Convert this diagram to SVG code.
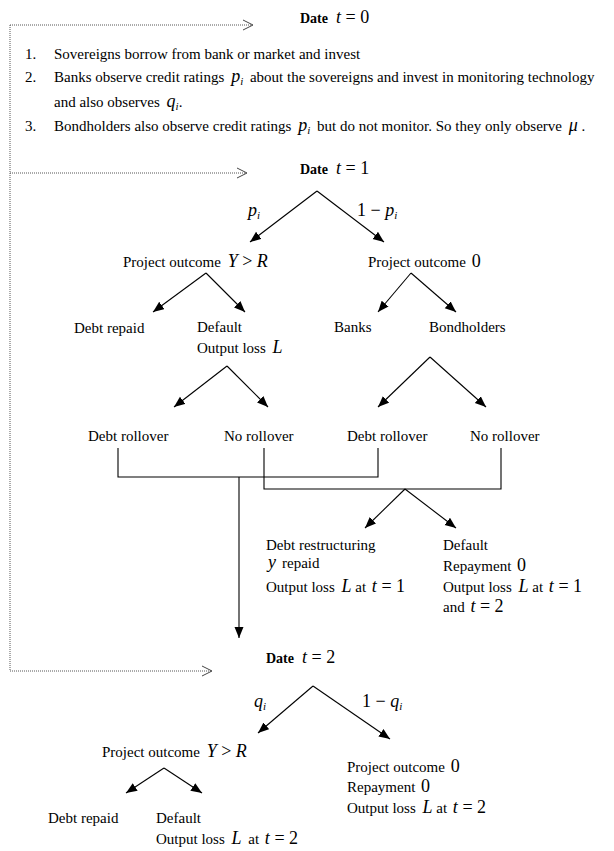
<svg xmlns="http://www.w3.org/2000/svg" width="614" height="851" viewBox="0 0 614 851">
<style>
text{font-family:"Liberation Serif","Times New Roman",serif;font-size:15px;fill:#000}
.b{font-weight:bold;font-size:14px}
.m{font-size:18px}
.i{font-style:italic}
.s{font-size:11px;font-style:italic}
.ln{stroke:#000;stroke-width:1.1;fill:none}
.dot{stroke:#555;stroke-width:1;stroke-dasharray:1,1;fill:none}
.open{stroke:#444;stroke-width:1;fill:none}
</style>
<defs>
<marker id="ah" markerUnits="userSpaceOnUse" markerWidth="12" markerHeight="10" refX="11" refY="4.5" orient="auto">
<path d="M0,0 L11,4.5 L0,9 z" fill="#000"/>
</marker>
</defs>

<g id="timeline">
<path class="dot" d="M10,25 V671"/>
<path class="dot" d="M10,25 H252"/>
<polyline class="open" points="243,20 253,25 243,30"/>
<path class="dot" d="M10,173 H246"/>
<polyline class="open" points="237,168 247,173 237,178"/>
<path class="dot" d="M10,671 H211"/>
<polyline class="open" points="202,666 212,671 202,676"/>
</g>

<g id="date0">
<text x="300" y="23"><tspan class="b">Date</tspan><tspan class="m i" dx="8">t</tspan><tspan class="m"> = 0</tspan></text>
</g>
<g id="steps">
<text x="25" y="59">1.</text>
<text x="54" y="59">Sovereigns borrow from bank or market and invest</text>
<text x="25" y="82">2.</text>
<text x="54" y="82">Banks observe credit ratings <tspan class="m i" dx="3">p</tspan><tspan class="s" dy="3">i</tspan><tspan dy="-3" dx="3"> about the sovereigns and invest in monitoring technology</tspan></text>
<text x="54" y="107">and also observes <tspan class="m i" dx="3">q</tspan><tspan class="s" dy="3">i</tspan><tspan dy="-3">.</tspan></text>
<text x="25" y="131">3.</text>
<text x="54" y="131">Bondholders also observe credit ratings <tspan class="m i" dx="3">p</tspan><tspan class="s" dy="3">i</tspan><tspan dy="-3" dx="3"> but do not monitor. So they only observe </tspan><tspan class="m i" dx="3">μ</tspan><tspan> .</tspan></text>
</g>

<g id="date1">
<text x="300" y="174"><tspan class="b">Date</tspan><tspan class="m i" dx="8">t</tspan><tspan class="m"> = 1</tspan></text>
</g>
<g id="prob1">
<text x="248" y="216"><tspan class="m i">p</tspan><tspan class="s" dy="3">i</tspan></text>
<text x="357" y="216"><tspan class="m">1 − </tspan><tspan class="m i">p</tspan><tspan class="s" dy="3">i</tspan></text>
</g>
<g id="outcomeYR1"><text x="123" y="267">Project outcome <tspan class="m i" dx="3">Y</tspan><tspan class="m"> &gt; </tspan><tspan class="m i">R</tspan></text></g>
<g id="outcome0_1"><text x="368" y="267">Project outcome <tspan class="m" dx="2">0</tspan></text></g>
<g id="repaid1"><text x="74" y="333">Debt repaid</text></g>
<g id="default1"><text x="197" y="332">Default</text><text x="197" y="353">Output loss <tspan class="m i" dx="3">L</tspan></text></g>
<g id="banks"><text x="334" y="332">Banks</text></g>
<g id="bondholders"><text x="429" y="332">Bondholders</text></g>
<g id="rollover1"><text x="88" y="441">Debt rollover</text></g>
<g id="norollover1"><text x="224" y="441">No rollover</text></g>
<g id="rollover2"><text x="347" y="441">Debt rollover</text></g>
<g id="norollover2"><text x="470" y="441">No rollover</text></g>
<g id="restructuring">
<text x="266" y="550">Debt restructuring</text>
<text x="268" y="568"><tspan class="m i">y</tspan><tspan dx="6">repaid</tspan></text>
<text x="266" y="592">Output loss <tspan class="m i" dx="3">L</tspan><tspan> at </tspan><tspan class="m i" dx="2">t</tspan><tspan class="m"> = 1</tspan></text>
</g>
<g id="default2">
<text x="443" y="550">Default</text>
<text x="443" y="571">Repayment <tspan class="m" dx="2">0</tspan></text>
<text x="443" y="592">Output loss <tspan class="m i" dx="3">L</tspan><tspan> at </tspan><tspan class="m i" dx="2">t</tspan><tspan class="m"> = 1</tspan></text>
<text x="443" y="612">and <tspan class="m i" dx="2">t</tspan><tspan class="m"> = 2</tspan></text>
</g>

<g id="date2">
<text x="266" y="663"><tspan class="b">Date</tspan><tspan class="m i" dx="8">t</tspan><tspan class="m"> = 2</tspan></text>
</g>
<g id="prob2">
<text x="254" y="707"><tspan class="m i">q</tspan><tspan class="s" dy="3">i</tspan></text>
<text x="362" y="707"><tspan class="m">1 − </tspan><tspan class="m i">q</tspan><tspan class="s" dy="3">i</tspan></text>
</g>
<g id="outcomeYR2"><text x="102" y="757">Project outcome <tspan class="m i" dx="3">Y</tspan><tspan class="m"> &gt; </tspan><tspan class="m i">R</tspan></text></g>
<g id="outcome0_2">
<text x="347" y="772">Project outcome <tspan class="m" dx="2">0</tspan></text>
<text x="347" y="792">Repayment <tspan class="m" dx="2">0</tspan></text>
<text x="347" y="813">Output loss <tspan class="m i" dx="3">L</tspan><tspan> at </tspan><tspan class="m i" dx="2">t</tspan><tspan class="m"> = 2</tspan></text>
</g>
<g id="repaid2"><text x="48" y="823">Debt repaid</text></g>
<g id="default3">
<text x="156" y="823">Default</text>
<text x="156" y="844">Output loss <tspan class="m i" dx="3">L</tspan><tspan dx="3"> at </tspan><tspan class="m i" dx="2">t</tspan><tspan class="m"> = 2</tspan></text>
</g>

<g id="connectors">
<path class="ln" d="M317,191 L250,242" marker-end="url(#ah)"/>
<path class="ln" d="M317,191 L384,242" marker-end="url(#ah)"/>
<path class="ln" d="M206,273 L153,312" marker-end="url(#ah)"/>
<path class="ln" d="M206,273 L245,312" marker-end="url(#ah)"/>
<path class="ln" d="M411,273 L378,312" marker-end="url(#ah)"/>
<path class="ln" d="M411,273 L456,312" marker-end="url(#ah)"/>
<path class="ln" d="M227,366 L174,407" marker-end="url(#ah)"/>
<path class="ln" d="M227,366 L268,407" marker-end="url(#ah)"/>
<path class="ln" d="M430,357 L378,407" marker-end="url(#ah)"/>
<path class="ln" d="M430,357 L486,407" marker-end="url(#ah)"/>
<polyline class="ln" points="118,448 118,477 378,477 378,448"/>
<polyline class="ln" points="264,448 264,489 501,489 501,448"/>
<path class="ln" d="M239,477 V638" marker-end="url(#ah)"/>
<path class="ln" d="M405,489 L365,528" marker-end="url(#ah)"/>
<path class="ln" d="M405,489 L456,528" marker-end="url(#ah)"/>
<path class="ln" d="M313,686 L258,733" marker-end="url(#ah)"/>
<path class="ln" d="M313,686 L390,739" marker-end="url(#ah)"/>
<path class="ln" d="M164,768 L126,793" marker-end="url(#ah)"/>
<path class="ln" d="M164,768 L202,793" marker-end="url(#ah)"/>
</g>
</svg>
